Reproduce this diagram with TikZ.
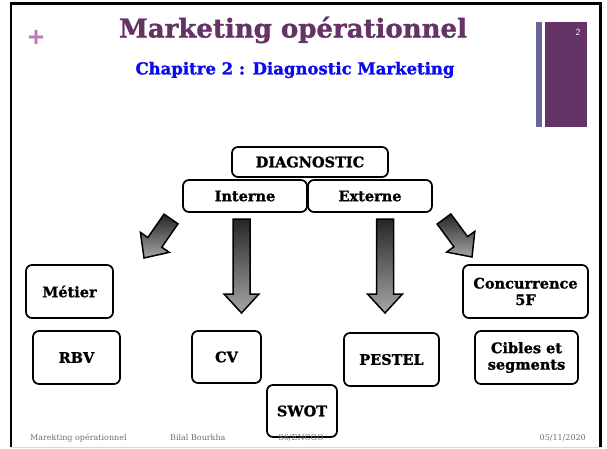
\documentclass[tikz,border=0pt]{standalone}
\usepackage{fontspec}
\setmainfont{DejaVu Serif}[BoldFeatures={FakeBold=1.2}]
\usepackage{tikz}
\usetikzlibrary{calc}
\definecolor{prune}{RGB}{102,51,102}
\definecolor{ardoise}{RGB}{102,102,153}
\definecolor{mauve}{RGB}{192,120,192}
\definecolor{bleu}{RGB}{10,10,240}
\definecolor{pied}{RGB}{110,110,110}
\def\shaft{8.5pt}
\def\head{17.5pt}
\def\headlen{19pt}
\tikzset{boite/.style={draw,rectangle,rounded corners=6pt,line width=1.7pt,fill=white,align=center,inner sep=0pt,font=\bfseries\fontsize{14.5}{16.5}\selectfont},
	piedtxt/.style={text=pied,font=\fontsize{8}{9}\selectfont,inner sep=0pt}}
\newcommand{\boite}[6]{\node[boite,minimum width=#4,minimum height=#5] (#1) at (#2,#3) {#6};}
\newcommand{\fleche}[2]{\shade[top color=black!85,bottom color=black!35,draw=black,line width=1.5pt,line join=miter]
	($(#1)!\shaft!90:(#2)$) -- ($($(#2)!\headlen!(#1)$)!\shaft!90:(#2)$) -- ($($(#2)!\headlen!(#1)$)!\head!90:(#2)$) -- (#2)
	-- ($($(#2)!\headlen!(#1)$)!\head!-90:(#2)$) -- ($($(#2)!\headlen!(#1)$)!\shaft!-90:(#2)$) -- ($(#1)!\shaft!-90:(#2)$) -- cycle;}

\begin{document}
\begin{tikzpicture}[x=1pt,y=-1pt]
	\fill[white] (0,0) rectangle (607,449);
	\useasboundingbox (0,0) rectangle (607,449);
	\draw[gray!30,line width=1pt] (11,447) -- (600.5,447);
	\draw[line width=2.5pt] (11,447) -- (11,3.5) -- (600.5,3.5) -- (600.5,447);

	\fill[ardoise] (536,22) rectangle (542,127);
	\fill[prune] (545,22) rectangle (587,127);
	\node[text=white,font=\sffamily\fontsize{9.5}{10}\selectfont] (page) at (578,32) {2};
	\node[text=mauve,font=\bfseries\fontsize{22}{22}\selectfont] (plus) at (36,37) {+};

	\node[text=prune,font=\bfseries\fontsize{26}{30}\selectfont] (titre) at (293,30) {Marketing opérationnel};
	\node[text=bleu,font=\bfseries\fontsize{16.5}{18}\selectfont] (chapitre) at (295,70) {Chapitre 2 : Diagnostic Marketing};

	\boite{diag}{310}{162}{156}{30}{DIAGNOSTIC}
	\boite{interne}{245}{196}{124}{32}{Interne}
	\boite{externe}{370}{196}{124}{32}{Externe}
	\boite{metier}{69.5}{291.5}{87}{53}{Métier}
	\boite{rbv}{76.5}{357.5}{87}{53}{RBV}
	\boite{cv}{226.5}{357}{69}{52}{CV}
	\boite{pestel}{391.5}{359.5}{95}{53}{PESTEL}
	\boite{concu}{525.5}{291.5}{125}{53}{Concurrence\\5F}
	\boite{cibles}{526.5}{357.5}{103}{53}{Cibles et\\segments}
	\boite{swot}{302}{411}{70}{52}{\raisebox{-4pt}{SWOT}}

	\coordinate (gq) at (171,219);
	\coordinate (gp) at (144,258);
	\coordinate (iq) at (241.5,219);
	\coordinate (ip) at (241.5,313);
	\coordinate (eq) at (385,219);
	\coordinate (ep) at (385,313);
	\coordinate (dq) at (444,219);
	\coordinate (dp) at (472,257);
	\fleche{gq}{gp}
	\fleche{iq}{ip}
	\fleche{eq}{ep}
	\fleche{dq}{dp}

	\node[piedtxt,anchor=west] (pied1) at (30,438) {Marekting opérationnel};
	\node[piedtxt,anchor=west] (pied2) at (170,438) {Bilal Bourkha};
	\node[piedtxt] (pied3) at (301,438) {S6/ENCGO};
	\node[piedtxt,anchor=east] (pied4) at (586,438) {05/11/2020};
\end{tikzpicture}
\end{document}
